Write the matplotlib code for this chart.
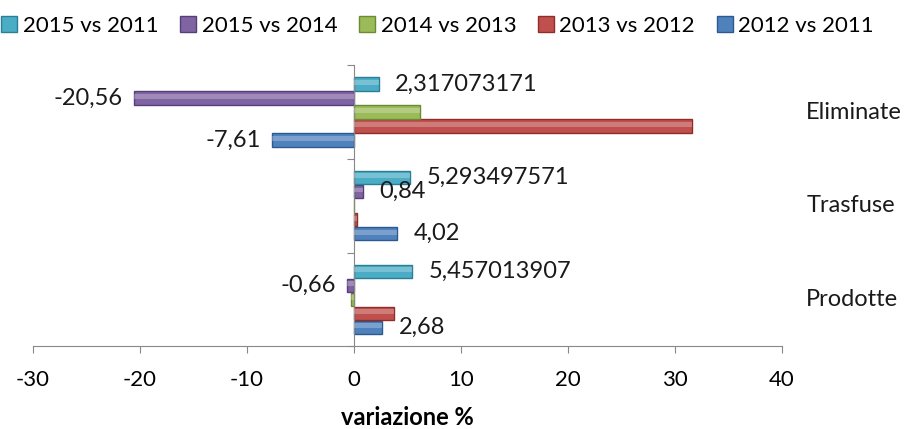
import matplotlib
matplotlib.use("Agg")
import matplotlib.pyplot as plt
import numpy as np

plt.rcParams['font.family'] = ['Lato', 'DejaVu Sans']
plt.rcParams['axes.unicode_minus'] = False

# categories, bottom to top
categories = ["Prodotte", "Trasfuse", "Eliminate"]
series_names = ["2012 vs 2011", "2013 vs 2012", "2014 vs 2013", "2015 vs 2014", "2015 vs 2011"]
colors = ["#4F81BD", "#C0504D", "#9BBB59", "#8064A2", "#4BACC6"]
edge_colors = ["#2C5A8F", "#8E2E2B", "#6B8A35", "#553F78", "#2A7F95"]

v_2012_2011 = [2.68, 4.02, -7.61]
v_2013_2012 = [3.8, 0.3, 31.6]
v_2014_2013 = [-0.3, 0.05, 6.2]
v_2015_2014 = [-0.66, 0.84, -20.56]
v_2015_2011 = [5.457013907, 5.293497571, 2.317073171]
values = [v_2012_2011, v_2013_2012, v_2014_2013, v_2015_2014, v_2015_2011]

# which bars carry a data label: (series index, category index)
labelled = [(0, 0), (0, 1), (0, 2), (3, 0), (3, 1), (3, 2), (4, 0), (4, 1), (4, 2)]

fig = plt.figure(figsize=(9.12, 4.29), dpi=100)
ax = fig.add_axes([0.036, 0.193, 0.821, 0.655])

y = np.arange(len(categories))
h = 0.15
bars = []
for i, (name, vals) in enumerate(zip(series_names, values)):
    b = ax.barh(y + (i - 2) * h, vals, height=h * 0.95, color=colors[i],
                edgecolor=edge_colors[i], linewidth=1.0, label=name, zorder=2)
    # light sheen on top half for the bevel look
    ax.barh(y + (i - 2) * h + h * 0.12, vals, height=h * 0.35, color="white",
            alpha=0.25, linewidth=0, zorder=3)
    bars.append(b)

for si, ci in labelled:
    v = values[si][ci]
    txt = ("%s" % v).replace(".", ",")
    off = 12 if v >= 0 else -8
    ax.annotate(txt, (v, y[ci] + (si - 2) * h), xytext=(off, 0),
                textcoords="offset points", ha="left" if v >= 0 else "right",
                va="center", fontsize=17, color="#1a1a1a", zorder=5)

ax.set_xlim(-30, 40)
ax.set_ylim(-0.5, 2.5)
ax.set_xticks(np.arange(-30, 41, 10))
ax.tick_params(axis="x", labelsize=16, length=5, color="#888888", pad=12)

ax.spines["left"].set_position(("data", 0))
for s in ["top", "right"]:
    ax.spines[s].set_visible(False)
ax.spines["left"].set_color("#888888")
ax.spines["bottom"].set_color("#888888")
ax.set_yticks([-0.5, 0.5, 1.5, 2.5])
ax.set_yticklabels([])
ax.tick_params(axis="y", length=5, color="#888888")

for ci, cat in enumerate(categories):
    ax.text(1.033, (ci + 0.5) / 3, cat, transform=ax.transAxes, ha="left",
            va="center", fontsize=17, color="#1a1a1a")

ax.set_xlabel("variazione %", fontsize=17, fontweight="bold", labelpad=12)

handles = bars[::-1]
fig.legend(handles, series_names[::-1], loc="upper center", ncol=5,
           bbox_to_anchor=(0.48, 1.01), frameon=False, fontsize=16,
           handlelength=0.7, handleheight=0.7, handletextpad=0.25,
           columnspacing=1.0)

fig.savefig("out.png", dpi=100)
